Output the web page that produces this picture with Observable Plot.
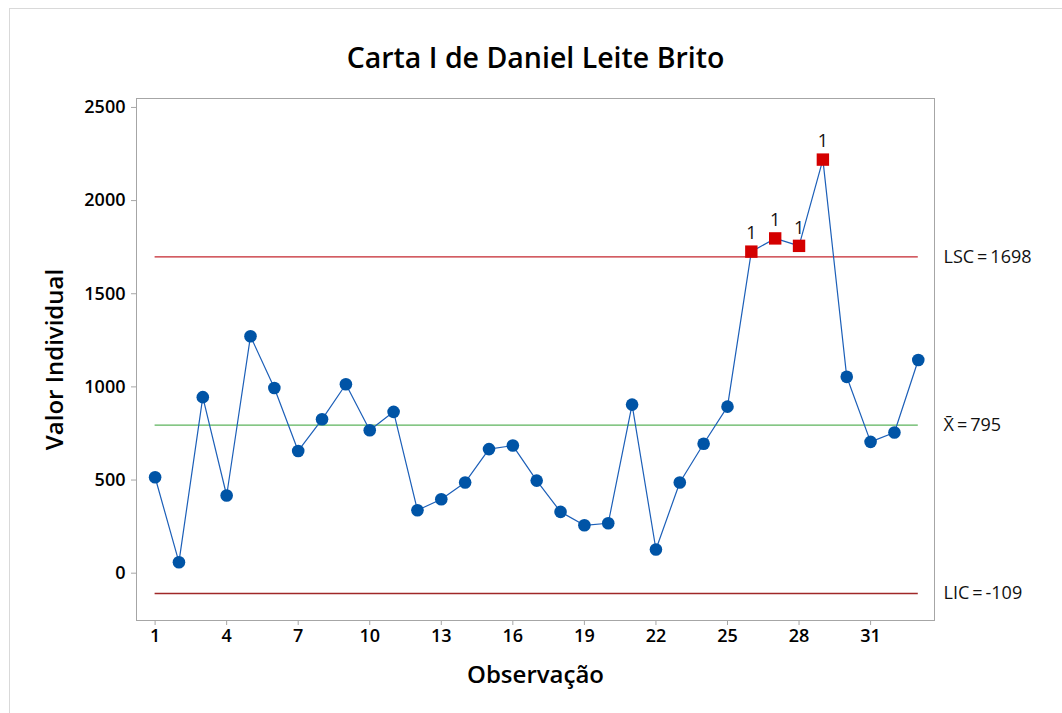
<!DOCTYPE html>
<html>
<head>
<meta charset="utf-8">
<script src="https://cdn.jsdelivr.net/npm/d3@7"></script>
<script src="https://cdn.jsdelivr.net/npm/@observablehq/plot@0.6"></script>
<style>
  html, body { margin: 0; padding: 0; background: #fff; }
  #wrap { position: relative; width: 1062px; height: 713px; overflow: hidden; }
  #border { position: absolute; left: 9px; top: 8px; width: 1100px; height: 800px;
            border-top: 1px solid #d9d9d9; border-left: 1px solid #d9d9d9; pointer-events: none; }
  svg { position: absolute; left: 0; top: 0; }
</style>
</head>
<body>
<div id="wrap"><div id="border"></div></div>
<script>
const title = "Carta I de Daniel Leite Brito";
const xLabel = "Observação";
const yLabel = "Valor Individual";

const observations = d3.range(1, 34);
const values = [515, 59, 945, 417, 1272, 994, 656, 826, 1014, 767, 866, 338, 397, 487, 666, 685, 497,
                329, 257, 268, 905, 127, 487, 695, 894, 1726, 1797, 1757, 2220, 1054, 705, 755, 1144];

const LSC = 1698, MEAN = 795, LIC = -109;
const xTicks = [1, 4, 7, 10, 13, 16, 19, 22, 25, 28, 31];
const yTicks = [0, 500, 1000, 1500, 2000, 2500];

const data = observations.map((o, i) => ({obs: o, value: values[i]}));
const outOfControl = data.filter(d => d.value > LSC || d.value < LIC);
const inControl = data.filter(d => !(d.value > LSC || d.value < LIC));

const limits = [
  {label: "LSC\u2009=\u20091698", v: LSC, color: "#c4262e"},
  {label: "X\u0304\u2009=\u2009795", v: MEAN, color: "#5cb35c"},
  {label: "LIC\u2009=\u2009-109", v: LIC, color: "#a02828"}
];

const font = "'Open Sans', 'Noto Sans', sans-serif";

const chart = Plot.plot({
  width: 1062,
  height: 713,
  marginLeft: 136,
  marginRight: 128,
  marginTop: 98,
  marginBottom: 93,
  style: {fontFamily: font, fontSize: "16px", color: "#000", background: "transparent"},
  x: {domain: [0.22, 33.68], label: null},
  y: {domain: [-254, 2548], label: null},
  marks: [
    Plot.frame({stroke: "#a6a6a6"}),
    Plot.axisX({ticks: xTicks, tickSize: 5, tickPadding: 4, stroke: "#a6a6a6", fill: "#000",
                fontSize: 18, fontWeight: 600, label: null}),
    Plot.axisY({ticks: yTicks, tickFormat: d => String(d), tickSize: 5, tickPadding: 6,
                stroke: "#a6a6a6", fill: "#000", fontSize: 18, fontWeight: 600, label: null}),
    Plot.ruleY(limits, {y: "v", x1: 1, x2: 33, stroke: "color", strokeWidth: 1.3}),
    Plot.text(limits, {y: "v", text: "label", frameAnchor: "right", dx: 9, textAnchor: "start",
                       fontSize: 18, fill: "#111"}),
    Plot.line(data, {x: "obs", y: "value", stroke: "#1c5fb8", strokeWidth: 1.2}),
    Plot.dot(inControl, {x: "obs", y: "value", r: 6.3, fill: "#0054a6", stroke: null}),
    Plot.dot(outOfControl, {x: "obs", y: "value", symbol: "square", r: 7, fill: "#d40000", stroke: null}),
    Plot.text(outOfControl, {x: "obs", y: "value", text: () => "1", dy: -18, fontSize: 18, fill: "#111"}),
    Plot.text([title], {frameAnchor: "top", dy: -40, lineAnchor: "middle", fontSize: 28.5, fontWeight: 600, fill: "#000"}),
    Plot.text([xLabel], {frameAnchor: "bottom", dy: 55, lineAnchor: "middle", fontSize: 24, fontWeight: 600, fill: "#000"}),
    Plot.text([yLabel], {frameAnchor: "left", dx: -81, rotate: -90, textAnchor: "middle", lineAnchor: "middle",
                         fontSize: 24, fontWeight: 600, fill: "#000"})
  ]
});
document.getElementById("wrap").appendChild(chart);
</script>
</body>
</html>
